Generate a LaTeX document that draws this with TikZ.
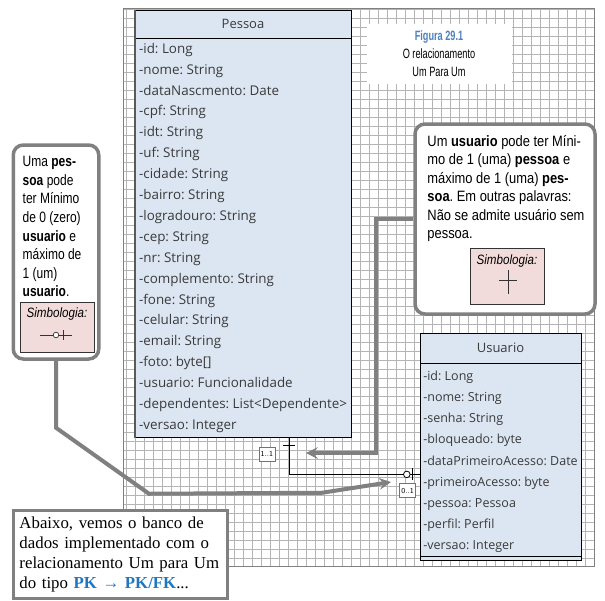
\documentclass[tikz,border=0pt]{standalone}
\usepackage{fontspec}
\setmainfont{Liberation Serif}
\newfontfamily\umlfont{Open Sans}
\newfontfamily\notefont[FakeStretch=0.86]{Liberation Sans}
\newfontfamily\narrowfont[FakeStretch=0.8]{Liberation Sans}
\newfontfamily\figfont[FakeStretch=0.68]{Liberation Sans}
\usepackage{tikz}
\usetikzlibrary{shapes,arrows,positioning,calc}
\usepackage{xcolor}
\definecolor{classblue}{HTML}{DCE6F2}
\definecolor{umltext}{HTML}{3A3A3A}
\definecolor{notegray}{HTML}{808080}
\definecolor{symbpink}{HTML}{F2DCDB}
\definecolor{figblue}{HTML}{4F81BD}
\definecolor{pkblue}{HTML}{1F77C0}
\definecolor{gridgray}{HTML}{B4B4B4}
\frenchspacing

\begin{document}
\begin{tikzpicture}[
    x=1pt, y=-1pt,
    classhead/.style={rectangle, draw=black, fill=classblue, inner sep=0pt, text=umltext, font=\umlfont\fontsize{13}{15}\selectfont},
    classbody/.style={rectangle, draw=black, fill=classblue, align=left, inner xsep=1.5pt, inner ysep=0pt, text=umltext},
    note/.style={rectangle, rounded corners=10pt, draw=notegray, line width=3.5pt, fill=white},
    notetext/.style={align=left, inner sep=0pt, anchor=north west},
    symbox/.style={rectangle, draw=black!80, fill=symbpink, minimum width=74pt, inner sep=0pt},
    symlabel/.style={inner sep=0pt, font=\notefont\itshape\fontsize{13.5}{15}\selectfont},
    symline/.style={draw=black!80, line width=0.7pt},
    multlabel/.style={rectangle, draw=black!55, fill=white, inner sep=0pt, minimum width=16pt, minimum height=14pt, font=\sffamily\fontsize{7.5}{8}\selectfont},
    relline/.style={draw=black, line width=0.8pt},
    callarrow/.style={line width=4pt, draw=notegray, ->, >=stealth},
    gridline/.style={draw=gridgray, line width=0.6pt}
]

\useasboundingbox (0,0) rectangle (605,600);
\fill[white] (0,0) rectangle (605,600);

% grid
\draw[gridline, step=9pt] (123,8) grid (594,566);
\draw[draw=gray, line width=0.8pt] (123,8) rectangle (594,566);

% figure title
\node (figtitle) [rectangle, fill=white, minimum width=145pt, minimum height=60pt, align=center, font=\figfont\fontsize{13.5}{18}\selectfont] at (439,54) {\textcolor{figblue}{\bfseries Figura 29.1}\\O relacionamento\\Um Para Um};

% classes
\node (phead) [classhead, minimum width=216pt, minimum height=28pt] at (243,24) {Pessoa};
\node (pbody) [classbody, below=0pt of phead, minimum width=216pt, minimum height=399pt, font=\umlfont\fontsize{13.4}{20.9}\selectfont] {-id: Long\\-nome: String\\-dataNascmento: Date\\-cpf: String\\-idt: String\\-uf: String\\-cidade: String\\-bairro: String\\-logradouro: String\\-cep: String\\-nr: String\\-complemento: String\\-fone: String\\-celular: String\\-email: String\\-foto: byte[]\\-usuario: Funcionalidade\\-dependentes: List<Dependente>\\-versao: Integer};
\draw[line width=2pt, black!65] (phead.north west) -- (pbody.south west);

\node (uhead) [classhead, minimum width=161pt, minimum height=30pt] at (500.5,348) {Usuario};
\node (ubody) [classbody, below=0pt of uhead, minimum width=161pt, minimum height=197pt, font=\umlfont\fontsize{12.5}{21.2}\selectfont] {-id: Long\\-nome: String\\-senha: String\\-bloqueado: byte\\-dataPrimeiroAcesso: Date\\-primeiroAcesso: byte\\-pessoa: Pessoa\\-perfil: Perfil\\-versao: Integer};
\draw ([yshift=4pt]ubody.south west) -- ([yshift=4pt]ubody.south east);

% relationship
\coordinate (pjoin) at ([xshift=46pt]pbody.south);
\coordinate (ujoin) at ([yshift=-12.5pt]ubody.west);
\draw[relline] (pjoin) |- (ujoin);
\draw[relline] ([xshift=-6pt,yshift=-8pt]pjoin) -- ++(12,0);
\draw[relline, fill=white] ([xshift=-13pt]ujoin) circle (3.3);
\draw[relline] ([xshift=-7pt,yshift=6pt]ujoin) -- ++(0,12);
\node (pmult) [multlabel, below left=9pt and 14pt of pjoin] {1..1};
\node (umult) [multlabel, below left=9pt and 4pt of ujoin] {0..1};

% notes
\node (lnote) [note, minimum width=85.5pt, minimum height=214pt] at (56,252) {};
\node (ltext) [notetext, font=\narrowfont\fontsize{15}{18.6}\selectfont] at ([xshift=11pt,yshift=-13pt]lnote.north west) {Uma \textbf{pes-}\\\textbf{soa} pode\\ter Mínimo\\de 0 (zero)\\\textbf{usuario} e\\máximo de\\1 (um)\\\textbf{usuario}.};
\node (lsym) [symbox, minimum height=50pt] at (57,327) {};
\node (lsymlbl) [symlabel, below=6pt of lsym.north] {Simbologia:};
\draw[symline] ([xshift=-17pt,yshift=-8pt]lsym.center) -- ++(32,0);
\draw[symline, fill=white] ([xshift=-1pt,yshift=-8pt]lsym.center) circle (2.8);
\draw[symline] ([xshift=6pt,yshift=-3pt]lsym.center) -- ++(0,10);

\node (rnote) [note, minimum width=180pt, minimum height=190pt] at (505,219) {};
\node (rtext) [notetext, font=\notefont\fontsize{15}{18.5}\selectfont] at ([xshift=14pt,yshift=-12.5pt]rnote.north west) {Um \textbf{usuario} pode ter Míni-\\mo de 1 (uma) \textbf{pessoa} e\\máximo de 1 (uma) \textbf{pes-}\\\textbf{soa}. Em outras palavras:\\Não se admite usuário sem\\pessoa.};
\node (rsym) [symbox, minimum height=56pt] at (507,276) {};
\node (rsymlbl) [symlabel, below=7pt of rsym.north] {Simbologia:};
\draw[symline] ([xshift=1pt,yshift=6pt]rsym.center) -- ++(0,24);
\draw[symline] ([xshift=-8pt,yshift=-4pt]rsym.center) -- ++(18,0);

% bottom text
\node (abaixo) [rectangle, draw=notegray, line width=3pt, fill=white, minimum width=214pt, minimum height=88pt, text width=202pt, align=left, font=\fontsize{16.8}{20}\selectfont] at (120.5,554) {Abaixo, vemos o banco de\\dados implementado com o\\relacionamento Um para Um\\do tipo \textcolor{pkblue}{\textbf{PK} → \textbf{PK/FK}}...};

% callout arrows
\coordinate (rtip) at (306,453);
\coordinate (ltip) at (391,482);
\draw[callarrow] (rnote.west) -- ++(-37,0) |- (rtip);
\draw[callarrow] (lnote.south) -- ++(0,67) -- ++(93,66) -- ++(173,-1) -- (ltip);

\end{tikzpicture}
\end{document}
